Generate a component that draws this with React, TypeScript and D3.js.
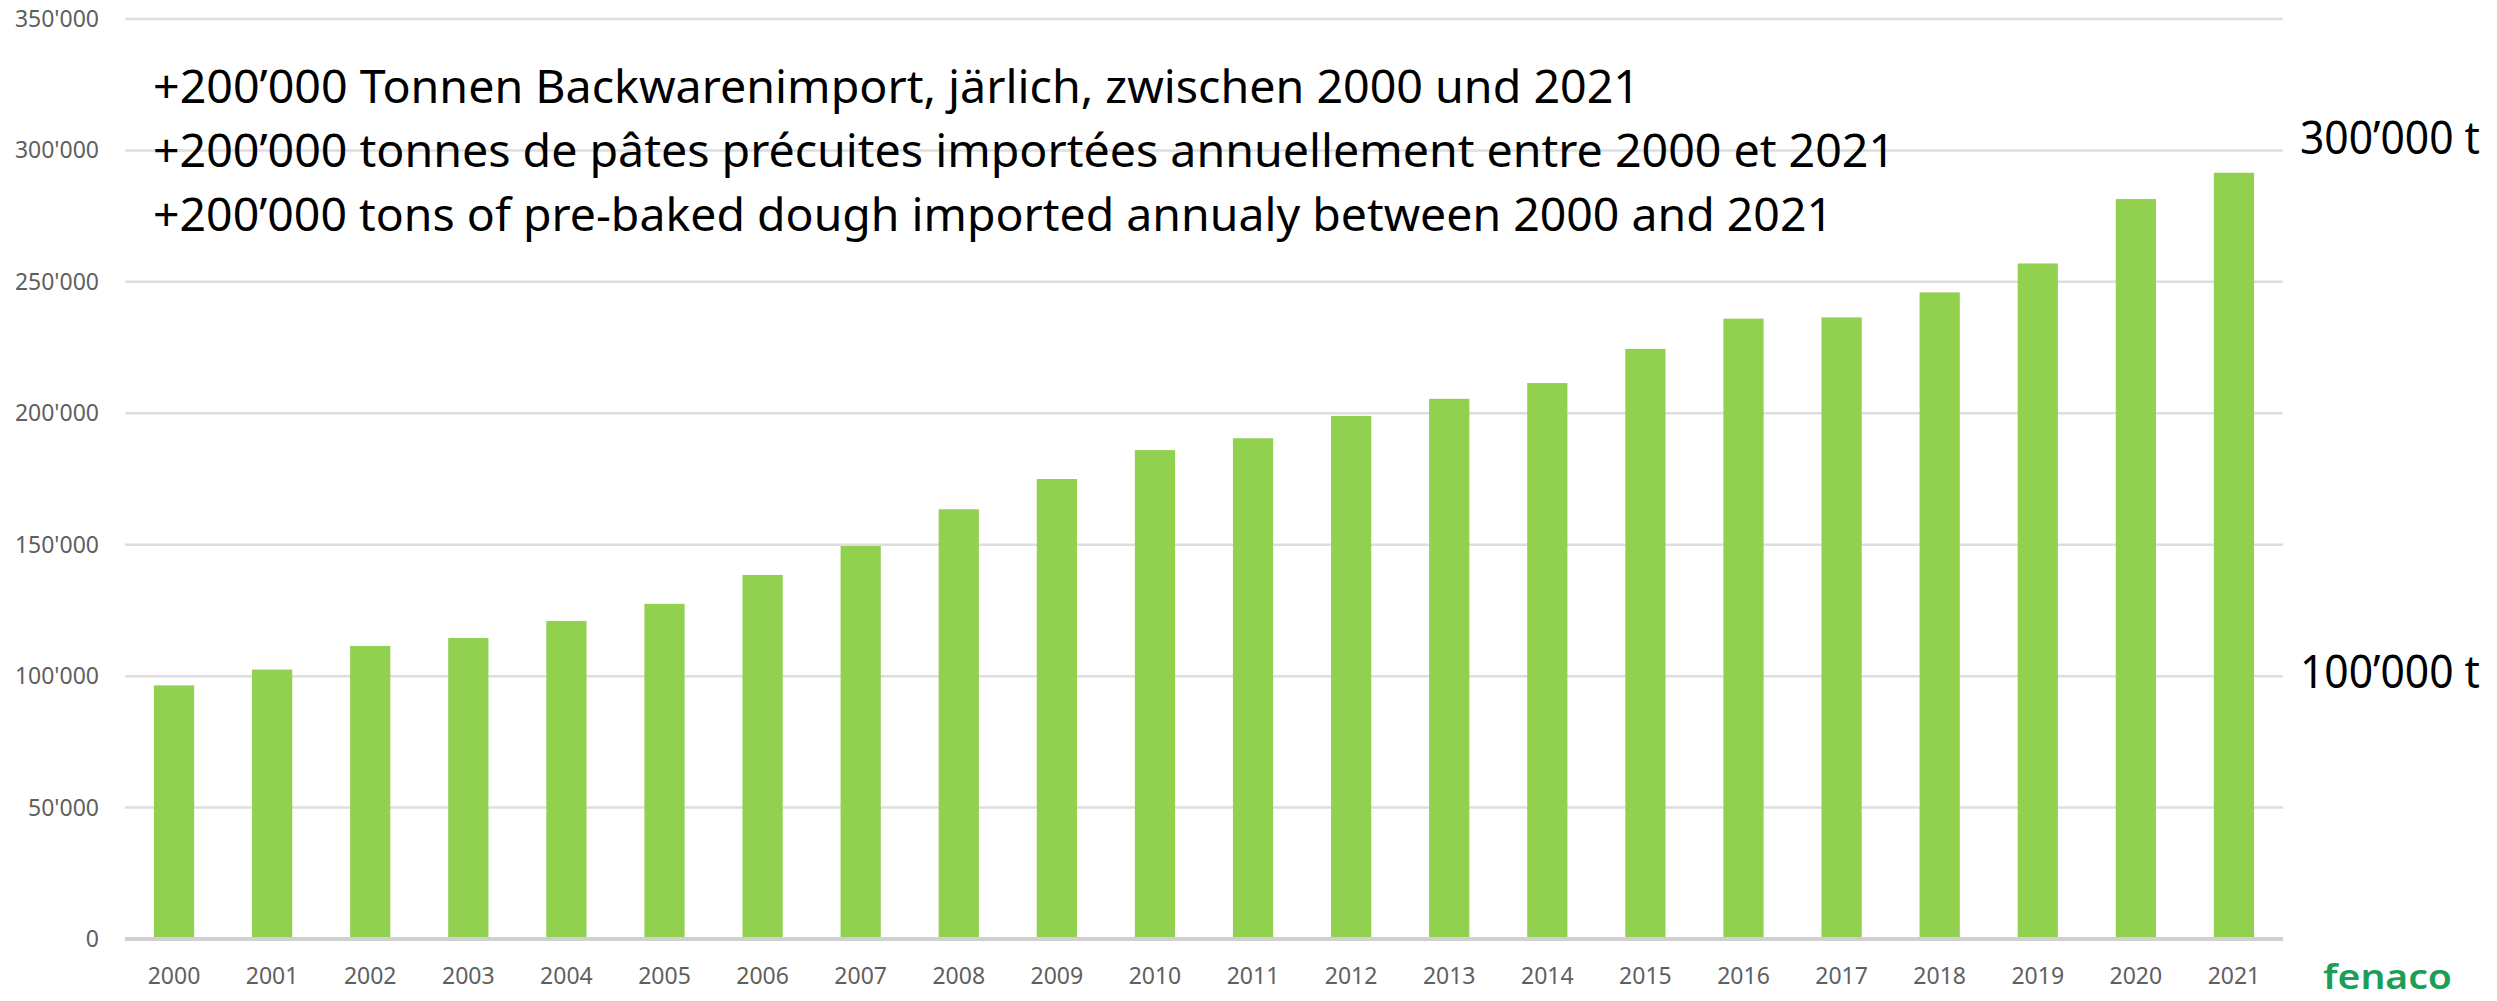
import React from 'react'
import * as d3 from 'd3'

const years = [
  '2000', '2001', '2002', '2003', '2004', '2005', '2006', '2007', '2008', '2009', '2010',
  '2011', '2012', '2013', '2014', '2015', '2016', '2017', '2018', '2019', '2020', '2021',
]
const imports = [
  96500, 102500, 111500, 114500, 121000, 127500, 138500, 149500, 163500, 175000, 186000,
  190500, 199000, 205500, 211500, 224500, 236000, 236500, 246000, 257000, 281500, 291500,
]
const yTicks = [0, 50000, 100000, 150000, 200000, 250000, 300000, 350000]
const headlines = [
  '+200’000 Tonnen Backwarenimport, järlich, zwischen 2000 und 2021',
  '+200’000 tonnes de pâtes précuites importées annuellement entre 2000 et 2021',
  '+200’000 tons of pre-baked dough imported annualy between 2000 and 2021',
]
const headlineWidths = [1487, 1742, 1680]
const sideNotes = [
  { value: 300000, label: '300’000 t' },
  { value: 100000, label: '100’000 t' },
]
const sideNoteDy = [4, 12]

const W = 2497
const H = 1001
const margin = { left: 125, right: 214, top: 19, bottom: 62 }

// swiss style thousands: 350'000
const fmt = (v: number) => d3.format(',')(v).replace(/,/g, "'")

export default function App() {
  const x = d3
    .scaleBand()
    .domain(years)
    .range([margin.left, W - margin.right])
    .paddingInner(0.59)
    .paddingOuter(0.295)

  const y = d3
    .scaleLinear()
    .domain([0, 350000])
    .range([H - margin.bottom, margin.top])

  const labelFont = '"Noto Sans", "Open Sans", sans-serif'
  const bigFont = '"Noto Sans", "Liberation Sans", sans-serif'

  return (
    <svg
      width={W}
      height={H}
      style={{ position: 'absolute', left: 0, top: 0, display: 'block', background: '#fff' }}
    >
      {/* grid + y labels */}
      <g>
        {yTicks.map((t) => (
          <g key={t}>
            <line
              x1={margin.left}
              x2={W - margin.right}
              y1={y(t)}
              y2={y(t)}
              stroke={t === 0 ? '#d0d0d0' : '#dedede'}
              strokeWidth={t === 0 ? 4 : 2.5}
            />
            <text
              x={99}
              y={y(t)}
              dy="0.35em"
              textAnchor="end"
              fontFamily={labelFont}
              fontSize={23}
              fill="#5f5f5f"
            >
              {fmt(t)}
            </text>
          </g>
        ))}
      </g>

      {/* bars */}
      <g>
        {years.map((yr, i) => (
          <rect
            key={yr}
            x={x(yr)}
            y={y(imports[i])}
            width={x.bandwidth()}
            height={y(0) - y(imports[i]) - 2}
            fill="#92d050"
          />
        ))}
      </g>

      {/* x labels */}
      <g>
        {years.map((yr) => (
          <text
            key={yr}
            x={(x(yr) as number) + x.bandwidth() / 2}
            y={984}
            textAnchor="middle"
            fontFamily={labelFont}
            fontSize={23}
            fill="#5f5f5f"
          >
            {yr}
          </text>
        ))}
      </g>

      {/* headline text */}
      {headlines.map((h, i) => (
        <text
          key={i}
          x={153}
          y={103 + i * 64}
          fontFamily={bigFont}
          fontSize={46}
          fill="#000"
          textLength={headlineWidths[i]}
          lengthAdjust="spacingAndGlyphs"
        >
          {h}
        </text>
      ))}

      {/* right side notes */}
      {sideNotes.map((n, i) => (
        <text
          key={n.label}
          x={2300}
          y={y(n.value) + sideNoteDy[i]}
          fontFamily={bigFont}
          fontSize={46}
          fill="#000"
          textLength={180}
          lengthAdjust="spacingAndGlyphs"
        >
          {n.label}
        </text>
      ))}

      {/* logo */}
      <text
        x={2323}
        y={989}
        fontFamily={bigFont}
        fontSize={34}
        fontWeight={600}
        fill="#1b9e58"
        textLength={129}
        lengthAdjust="spacingAndGlyphs"
      >
        fenaco
      </text>
    </svg>
  )
}
